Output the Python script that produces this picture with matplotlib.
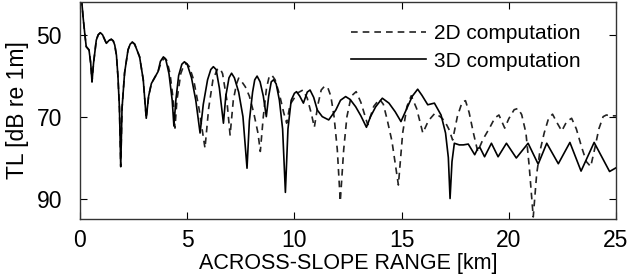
import numpy as np
import matplotlib.pyplot as plt

plt.rcParams['font.family'] = ['Liberation Sans', 'DejaVu Sans']

# range [km] and transmission loss [dB]
range_3d = [0.05, 0.15, 0.22, 0.29, 0.42, 0.5, 0.56, 0.63, 0.76, 0.85, 0.95, 1.05, 1.23, 1.35,
            1.46, 1.55, 1.62, 1.7, 1.77, 1.84, 1.9, 1.96, 2.08, 2.24, 2.34, 2.44, 2.55, 2.78,
            2.95, 3.09, 3.2, 3.33, 3.64, 3.75, 3.89, 4.0, 4.15, 4.3, 4.38, 4.47, 4.6, 4.75,
            4.87, 5.0, 5.2, 5.4, 5.6, 5.75, 5.95, 6.1, 6.22, 6.35, 6.5, 6.69, 6.8, 6.95, 7.07,
            7.2, 7.4, 7.6, 7.79, 7.9, 8.05, 8.15, 8.26, 8.4, 8.55, 8.69, 8.8, 8.92, 9.03, 9.15,
            9.3, 9.45, 9.58, 9.7, 9.85, 10.0, 10.1, 10.25, 10.42, 10.6, 10.73, 10.9, 11.07,
            11.3, 11.6, 11.93, 12.15, 12.39, 12.6, 12.86, 13.1, 13.36, 13.55, 13.79, 14.1,
            14.41, 14.7, 14.97, 15.2, 15.5, 15.75, 15.95, 16.22, 16.53, 16.84, 17.05, 17.18,
            17.26, 17.35, 17.46, 17.69, 17.88, 18.11, 18.41, 18.56, 18.66, 18.87, 19.19, 19.5,
            19.89, 20.35, 20.9, 21.37, 21.77, 22.31, 22.85, 23.37, 23.98, 24.7, 25.0]
tl_3d = [40, 46, 49.6, 52.9, 53.7, 57, 61.5, 57, 51.3, 50, 49.5, 50, 52.1, 51.4,
         51.1, 51.5, 52.5, 55, 60.2, 68, 82.2, 68, 59.3, 53.7, 52.3, 51.8, 52.3, 55.4,
         61, 70.4, 65, 61.9, 59, 56.5, 55.4, 56, 59.5, 66, 72.3, 66, 60, 57.2,
         56.6, 57.2, 60.5, 66, 74, 67, 61, 58.5, 57.8, 58.5, 63, 71.6, 65, 60.5, 59.4,
         60.5, 64, 70, 82.6, 71, 64, 61, 60.1, 61.5, 65, 70, 65, 61.5, 61, 62,
         66, 73, 88.5, 73, 66, 64.3, 63.9, 65, 66.7, 64, 63.5, 65.3, 68.4,
         70, 70.8, 68.4, 66, 65.1, 65.8, 67.6, 69.8, 72.6, 70, 67.6, 65.5,
         66.7, 68.8, 71.2, 68.5, 65, 63.3, 64.8, 67.1, 66.7, 69.6, 74, 80,
         90, 81, 76.5, 76.9, 76.9, 76.7, 79.3, 77.7, 77.6, 79.8, 76.5, 79.8,
         76.5, 80.1, 76.5, 81.6, 76.5, 81.5, 76.3, 83.3, 76.3, 83.4, 82.5]

range_2d = [0.05, 0.15, 0.22, 0.29, 0.42, 0.5, 0.56, 0.63, 0.76, 0.85, 0.95, 1.05, 1.23, 1.35,
            1.46, 1.55, 1.62, 1.7, 1.77, 1.84, 1.9, 1.96, 2.08, 2.24, 2.34, 2.44, 2.55, 2.78,
            2.95, 3.09, 3.2, 3.33, 3.64, 3.8, 3.95, 4.05, 4.2, 4.35, 4.43, 4.52, 4.7, 4.85,
            4.97, 5.1, 5.3, 5.55, 5.83, 6.0, 6.2, 6.4, 6.53, 6.65, 6.85, 7.0, 7.15, 7.3, 7.4,
            7.55, 7.71, 7.9, 8.1, 8.3, 8.41, 8.55, 8.7, 8.82, 8.94, 9.1, 9.3, 9.5, 9.64, 9.8,
            9.94, 10.15, 10.4, 10.6, 10.8, 10.93, 11.1, 11.25, 11.4, 11.55, 11.7, 11.85, 12.0,
            12.14, 12.3, 12.45, 12.65, 12.88, 13.1, 13.42, 13.7, 13.97, 14.15, 14.33, 14.55,
            14.85, 15.05, 15.25, 15.45, 15.7, 15.99, 16.25, 16.55, 16.8, 17.0, 17.2, 17.38,
            17.6, 17.82, 17.98, 18.15, 18.35, 18.55, 18.8, 19.1, 19.35, 19.54, 19.7, 19.81,
            20.0, 20.25, 20.43, 20.6, 20.8, 20.95, 21.14, 21.3, 21.45, 21.65, 21.85, 22.04,
            22.25, 22.47, 22.7, 22.93, 23.15, 23.4, 23.62, 23.82, 24.0, 24.2, 24.4, 24.55,
            24.75, 25.0]
tl_2d = [40, 46, 49.6, 52.9, 53.7, 57, 61.5, 57, 51.3, 50, 49.5, 50, 52.1, 51.4,
         51.1, 51.5, 52.5, 55, 60.2, 68, 82.2, 68, 59.3, 53.7, 52.3, 51.8, 52.3, 55.4,
         61, 70.4, 65, 61.9, 59, 56.5, 55.7, 56.3, 59.5, 66, 72.8, 66, 59.5, 57.3,
         57, 57.8, 61, 68, 77.7, 68, 61, 58.5, 58.2, 59.5, 66, 74.5, 66, 62, 60.6,
         61.5, 62.7, 65, 69, 74, 78.5, 70, 63, 60.3, 59.8, 61, 64.5, 69, 71.6, 67,
         65.9, 64.2, 63.5, 65.5, 69.5, 72.6, 67, 63.5, 62.6, 62.8, 65, 70, 78,
         90.7, 78, 70, 65, 63.9, 66.5, 72, 67.5, 65.7, 67, 70.8, 76,
         86.7, 74, 67.5, 64.9, 68, 74, 71, 69.2, 70, 71, 73, 75.7,
         70, 66.5, 66.1, 69, 74, 78.5, 75.5, 72.8, 70.3, 69.6, 71.5, 72.8,
         70.5, 68.3, 68, 69.5, 74, 82, 94.5, 84, 78.5, 74, 70.5, 69.4,
         71.5, 73.5, 71.2, 70.4, 73, 77.5, 81, 82.2, 78, 73, 70, 69.6,
         69.8, 69.8]

xticks = [0, 5, 10, 15, 20, 25]
yticks = [50, 70, 90]

fig = plt.figure(figsize=(6.39, 2.79), dpi=100)
ax = fig.add_axes([80 / 639, 60 / 279, 536 / 639, 217 / 279])

ax.plot(range_2d, tl_2d, color='#222222', lw=1.2, ls=(0, (4, 3)), label='2D computation')
ax.plot(range_3d, tl_3d, color='black', lw=1.2, label='3D computation')

ax.set_xlim(0, 25)
ax.set_ylim(95, 42)
ax.set_xticks(xticks)
ax.set_yticks(yticks)
ax.tick_params(direction='in', top=True, right=True, length=5, labelsize=16.5)
ax.tick_params(axis='x', pad=7)
ax.tick_params(axis='y', pad=13)
for s in ax.spines.values():
    s.set_linewidth(1.0)
    s.set_color('#333333')

ax.set_xlabel('ACROSS-SLOPE RANGE [km]', fontsize=15.5, labelpad=1)
ax.set_ylabel('TL [dB re 1m]', fontsize=16.5, labelpad=5)

ax.legend(loc='upper right', bbox_to_anchor=(0.95, 0.935), frameon=False, fontsize=15,
          handlelength=3.6, handletextpad=0.4, labelspacing=0.4, borderaxespad=0)

fig.savefig('out.png', dpi=100)
